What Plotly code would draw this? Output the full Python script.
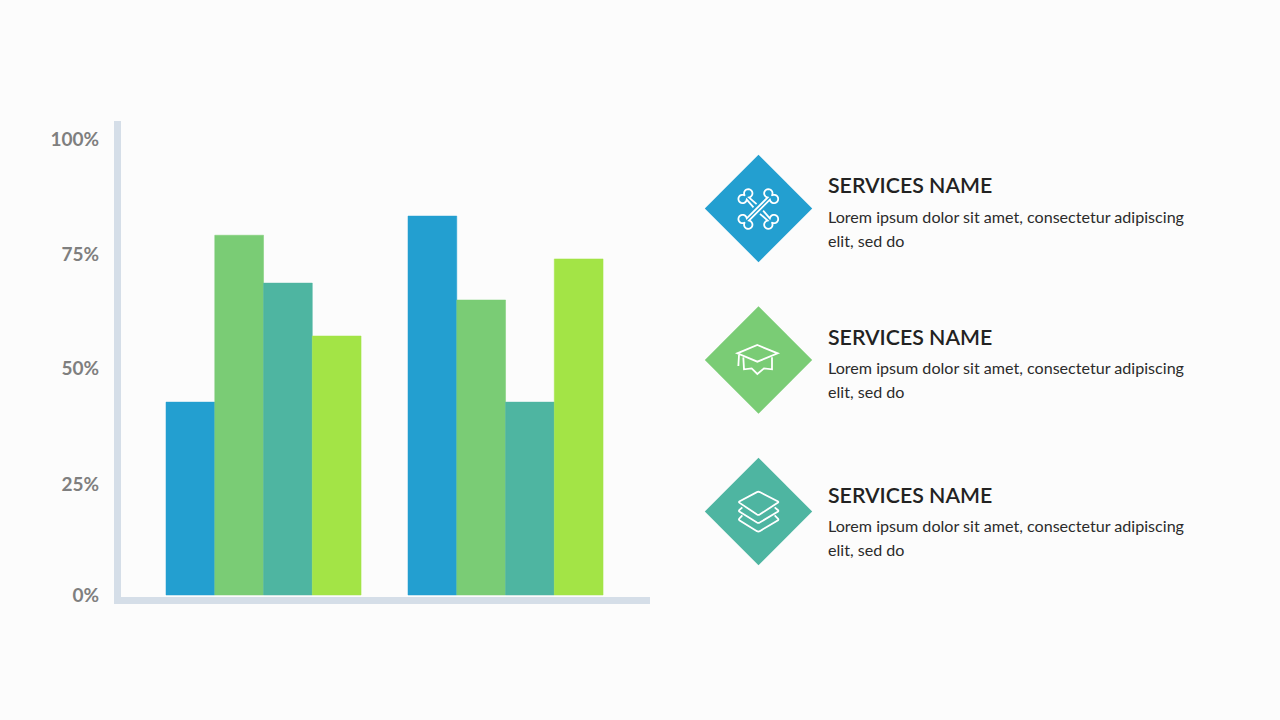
import numpy as np
import plotly.graph_objects as go

W, H = 1280, 720
L, R, T, B = 121, 650, 121, 597

categories = ["Group 1", "Group 2"]
series_a = [42.3, 83.1]
series_b = [78.9, 64.7]
series_c = [68.4, 42.3]
series_d = [56.8, 73.7]
series_colors = ["#239FD0", "#7ACC75", "#4EB5A1", "#A3E446"]
tick_positions = [0.0, 24.3, 49.6, 74.7, 99.9]
tick_labels = ["0%", "25%", "50%", "75%", "100%"]
service_title = "SERVICES NAME"
service_line1 = "Lorem ipsum dolor sit amet, consectetur adipiscing"
service_line2 = "elit, sed do"


def px(x):
    return (x - L) / (R - L)


def py(y):
    return (B - y) / (B - T)


def path(points, close=False):
    s = "M" + " L".join(f"{px(x):.5f},{py(y):.5f}" for x, y in points)
    return s + (" Z" if close else "")


fig = go.Figure()
for name, vals, col in zip("ABCD", [series_a, series_b, series_c, series_d], series_colors):
    fig.add_bar(x=categories, y=vals, name=name, marker=dict(color=col, line=dict(width=0.5, color=col)))

shapes = []
annotations = []


def line(points, close=False):
    shapes.append(dict(type="path", xref="paper", yref="paper", path=path(points, close),
                       line=dict(color="white", width=1.8), fillcolor="rgba(0,0,0,0)", layer="above"))


# decorative diamonds
centers = [(758.5, 208.5), (758.5, 360), (758.5, 511.5)]
for (cx, cy), col in zip(centers, [series_colors[0], series_colors[1], series_colors[2]]):
    r = 53.7
    shapes.append(dict(type="path", xref="paper", yref="paper",
                       path=path([(cx, cy - r), (cx + r, cy), (cx, cy + r), (cx - r, cy)], True),
                       fillcolor=col, line=dict(width=0), layer="above"))


# bones icon
def arc(cu, cv, r, a0, a1, n=18):
    t = np.radians(np.linspace(a0, a1, n))
    return [(cu + r * np.cos(a), cv + r * np.sin(a)) for a in t]


def bone_end(Lb, off=4.0, r=4.2):
    upper = arc(Lb, off, r, 216, -72)
    lower = [(u, -v) for u, v in reversed(upper)]
    return upper + lower


def place(pts, cx, cy, ang):
    c, s = np.cos(np.radians(ang)), np.sin(np.radians(ang))
    return [(cx + u * c - v * s, cy + u * s + v * c) for u, v in pts]


bcx, bcy = 758.3, 209.0
Lb = 18.2
end = bone_end(Lb)
full = end + [(-u, -v) for u, v in end]
line(place(full, bcx, bcy, -45), True)
piece = [(4.6, 2.2)] + end + [(4.6, -2.2)]
line(place(piece, bcx, bcy, 45))
line(place(piece, bcx, bcy, 225))


# cap icon
def crop(points, ox, oy):
    return [(ox + x / 3, oy + y / 3) for x, y in points]


def soften(points, close=False, d=1.6):
    """Cut sharp corners so the outline reads as rounded."""
    pts = np.array(points, float)
    n = len(pts)
    out = []
    for i in range(n):
        if not close and i in (0, n - 1):
            out.append(tuple(pts[i]))
            continue
        p, a, b = pts[i], pts[(i - 1) % n], pts[(i + 1) % n]
        u, v = (a - p) / np.linalg.norm(a - p), (b - p) / np.linalg.norm(b - p)
        for t in np.linspace(0, 1, 5):
            q = (1 - t) ** 2 * (p + u * d) + 2 * t * (1 - t) * p + t ** 2 * (p + v * d)
            out.append(tuple(q))
    return out


line(crop([(172, 135), (233, 160), (172, 185), (112, 160)], 700, 300), True)
line(crop([(130, 172), (132, 208), (155, 205), (172, 222), (192, 205), (216, 208), (216, 172)], 700, 300))
line(crop([(117, 165), (115, 198)], 700, 300))

# layers icon
line(soften(crop([(175, 118), (237, 150), (175, 190), (115, 150)], 700, 452), True), True)
line(soften(crop([(127, 166), (115, 177), (175, 214), (237, 177), (224, 166)], 700, 452)))
line(soften(crop([(127, 190), (115, 203), (175, 240), (237, 203), (224, 190)], 700, 452)))


# service text
def text(x, y, s, size, color, weight=400):
    annotations.append(dict(xref="paper", yref="paper", x=px(x), y=py(y), text=s, showarrow=False,
                            xanchor="left", yanchor="middle", xshift=-2, align="left",
                            font=dict(family="Lato", size=size, color=color, weight=weight)))


for ys in [(185, 216.4, 240.4), (337, 367.4, 391.4), (495, 525.4, 549.4)]:
    text(828, ys[0], service_title, 21.3, "#222222", 600)
    text(828, ys[1], service_line1, 16.1, "#2B2B2B")
    text(828, ys[2], service_line2, 16.1, "#2B2B2B")

fig.update_layout(
    width=W, height=H, autosize=False,
    margin=dict(l=L, r=W - R, t=T, b=H - B, pad=0),
    paper_bgcolor="#FCFCFC", plot_bgcolor="#FCFCFC",
    barmode="group", bargap=0.194, bargroupgap=0, showlegend=False,
    shapes=shapes, annotations=annotations,
    font=dict(family="Lato"),
)
fig.update_xaxes(range=[-0.589, 1.597], showticklabels=False, ticks="", showgrid=False, zeroline=False,
                 showline=True, linecolor="#D5DEE8", linewidth=7)
fig.update_yaxes(range=[-0.44, 103.95], tickmode="array", tickvals=tick_positions, ticktext=tick_labels,
                 showgrid=False, zeroline=False, showline=True, linecolor="#D5DEE8", linewidth=7,
                 ticks="outside", ticklen=11, tickcolor="rgba(0,0,0,0)", tickwidth=1,
                 tickfont=dict(family="Lato", size=19, color="#7F7F7F", weight=700))
fig.write_html("out.html", config={"displayModeBar": False},
               post_script="document.body.style.margin='0';document.body.style.overflow='hidden';")
